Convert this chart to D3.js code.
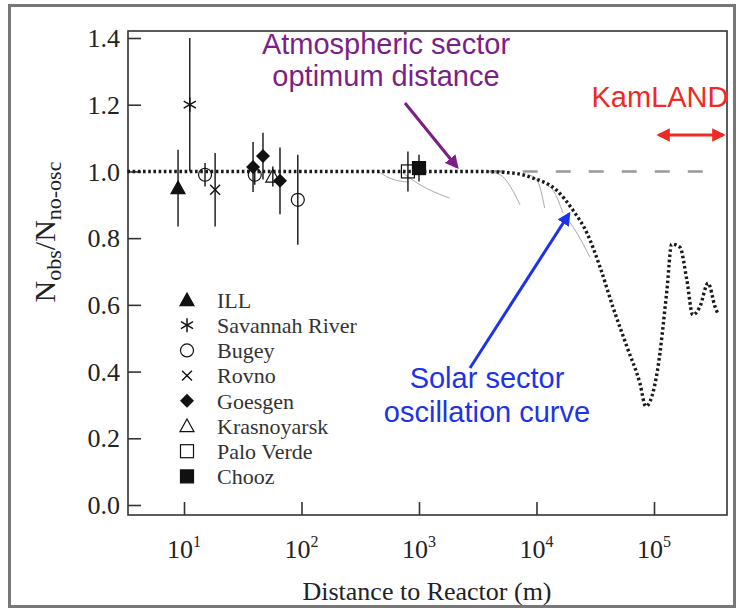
<!DOCTYPE html>
<html>
<head>
<meta charset="utf-8">
<script src="https://cdn.jsdelivr.net/npm/d3@7"></script>
<style>
  body { margin: 0; background: #fff; }
  svg { display: block; }
</style>
</head>
<body>
<div id="chart-area"></div>
<script>

// SVG Size
var width = 737,
		height = 610;

// Experiments (legend order)
var experiments = ["ILL", "Savannah River", "Bugey", "Rovno", "Goesgen", "Krasnoyarsk", "Palo Verde", "Chooz"];
var shapes = ["triangleFilled", "asterisk", "circleOpen", "cross", "diamondFilled", "triangleOpen", "squareOpen", "squareFilled"];

// Measurements
var pointExp   = ["ILL", "Savannah River", "Bugey", "Rovno", "Bugey", "Goesgen", "Goesgen", "Krasnoyarsk", "Goesgen", "Bugey", "Palo Verde", "Chooz"];
var pointDist  = [8.9, 11.2, 15.1, 18.4, 40, 38.7, 47, 57, 65.6, 93, 805, 1000];
var pointRatio = [0.95, 1.20, 0.99, 0.945, 0.99, 1.013, 1.046, 0.985, 0.972, 0.915, 1.0, 1.01];
var pointErr   = [0.115, 0.20, 0.035, 0.11, 0.03, 0.075, 0.07, 0.03, 0.10, 0.135, 0.06, 0.04];

// Solar sector oscillation curve
var curveDist  = [3.3, 100, 1000, 3162, 6310, 9333, 14790, 20420, 26900, 34670, 44670, 58880, 75860, 85110, 107200, 128800, 141300, 166000, 190500, 213800, 245500, 288400, 331100, 350800];
var curveRatio = [1.0, 1.0, 1.0, 1.0, 0.995, 0.98, 0.944, 0.884, 0.815, 0.714, 0.594, 0.474, 0.365, 0.296, 0.405, 0.644, 0.782, 0.773, 0.674, 0.57, 0.594, 0.665, 0.594, 0.572];

// Faint neighbouring curves
var fanDist  = [[450, 563, 794], [700, 1020, 1820], [3800, 4900, 7250], [8500, 10100, 11750], [12000, 13800, 16800], [19000, 22100, 28500]];
var fanRatio = [[1.0, 0.98, 0.968], [1.0, 0.96, 0.92], [1.0, 0.99, 0.90], [0.99, 0.974, 0.89], [0.96, 0.944, 0.875], [0.85, 0.815, 0.743]];

// No-oscillation reference
var noOscDist = [4000, 360000];
var noOscRatio = [1, 1];

// Tick labels
var yTicks = [0, 0.2, 0.4, 0.6, 0.8, 1.0, 1.2, 1.4];
var xTicks = [10, 100, 1000, 10000, 100000];

var svg = d3.select("#chart-area").append("svg")
		.attr("width", width)
		.attr("height", height);

// outer frame
svg.append("rect")
	.attr("x", 9.5).attr("y", 5.5)
	.attr("width", 725).attr("height", 601)
	.attr("fill", "none").attr("stroke", "#777").attr("stroke-width", 3);

// Plot box
var box = {left: 128, right: 727, top: 31, bottom: 515};

// X scale
var xScale = d3.scaleLog()
	.domain([10, 100000])
	.range([184, 654]);

// Y scale
var yScale = d3.scaleLinear()
	.domain([0, 1.4])
	.range([505, 38]);

var serif = "'Liberation Serif', 'Times New Roman', serif";
var sans = "'Liberation Sans', Arial, sans-serif";

// arrow markers
var defs = svg.append("defs");
function arrowMarker(id, color) {
	defs.append("marker")
		.attr("id", id)
		.attr("viewBox", "0 0 10 10")
		.attr("refX", 8).attr("refY", 5)
		.attr("markerWidth", 4.5).attr("markerHeight", 4.5)
		.attr("orient", "auto-start-reverse")
		.append("path")
		.attr("d", "M0,0 L10,5 L0,10 z")
		.attr("fill", color);
}
arrowMarker("arrPurple", "#7b1f86");
arrowMarker("arrBlue", "#1d34e6");
arrowMarker("arrRed", "#ee2a24");

// frame
svg.append("rect")
	.attr("x", box.left).attr("y", box.top)
	.attr("width", box.right - box.left).attr("height", box.bottom - box.top)
	.attr("fill", "none").attr("stroke", "#333").attr("stroke-width", 1.6);

// Y axis (ticks inward)
var yAxis = d3.axisRight(yScale)
	.tickValues(yTicks)
	.tickSize(13)
	.tickFormat("");
var gy = svg.append("g")
	.attr("transform", "translate(" + box.left + ",0)")
	.call(yAxis);
gy.select(".domain").remove();
gy.selectAll(".tick line").attr("stroke", "#333").attr("stroke-width", 1.6);

svg.selectAll(".ylab")
	.data(yTicks)
	.enter()
	.append("text")
	.attr("class", "ylab")
	.attr("x", 120)
	.attr("y", function(d){ return yScale(d); })
	.attr("dy", "0.35em")
	.attr("text-anchor", "end")
	.attr("font-family", serif)
	.attr("font-size", 26)
	.attr("fill", "#222")
	.text(function(d){ return d.toFixed(1); });

// X axis (ticks inward)
var xAxis = d3.axisTop(xScale)
	.tickValues(xTicks)
	.tickSize(13)
	.tickFormat("");
var gx = svg.append("g")
	.attr("transform", "translate(0," + box.bottom + ")")
	.call(xAxis);
gx.select(".domain").remove();
gx.selectAll(".tick line").attr("stroke", "#333").attr("stroke-width", 1.6);

var xl = svg.selectAll(".xlab")
	.data(xTicks)
	.enter()
	.append("text")
	.attr("class", "xlab")
	.attr("x", function(d){ return xScale(d); })
	.attr("y", 558)
	.attr("text-anchor", "middle")
	.attr("font-family", serif)
	.attr("font-size", 26)
	.attr("fill", "#222");
xl.append("tspan").text("10");
xl.append("tspan")
	.attr("dy", -11)
	.attr("font-size", 16)
	.text(function(d){ return Math.round(Math.log10(d)); });

// axis titles
svg.append("text")
	.attr("x", 427).attr("y", 600)
	.attr("text-anchor", "middle")
	.attr("font-family", serif)
	.attr("font-size", 26)
	.attr("fill", "#222")
	.text("Distance to Reactor (m)");

var yt = svg.append("text")
	.attr("transform", "translate(55,232) rotate(-90)")
	.attr("text-anchor", "middle")
	.attr("font-family", serif)
	.attr("font-size", 30)
	.attr("fill", "#222");
yt.append("tspan").text("N");
yt.append("tspan").attr("font-size", 22).attr("dy", 6).text("obs");
yt.append("tspan").attr("dy", -6).text("/N");
yt.append("tspan").attr("font-size", 22).attr("dy", 6).text("no-osc");

var line = d3.line()
	.x(function(d){ return xScale(d[0]); })
	.y(function(d){ return yScale(d[1]); });

// dashed no-oscillation line
svg.append("path")
	.datum(d3.zip(noOscDist, noOscRatio))
	.attr("d", line)
	.attr("fill", "none")
	.attr("stroke", "#999")
	.attr("stroke-width", 2.5)
	.attr("stroke-dasharray", "15,18");

// faint curves
fanDist.forEach(function(ds, i){
	svg.append("path")
		.datum(d3.zip(ds, fanRatio[i]))
		.attr("d", line.curve(d3.curveMonotoneX))
		.attr("fill", "none")
		.attr("stroke", "#aaa")
		.attr("stroke-width", 1);
});

// oscillation curve
svg.append("path")
	.datum(d3.zip(curveDist, curveRatio))
	.attr("d", line.curve(d3.curveMonotoneX))
	.attr("fill", "none")
	.attr("stroke", "#1a1a1a")
	.attr("stroke-width", 3.4)
	.attr("stroke-dasharray", "2.6,2.6");

// Marker drawing
function drawMarker(g, shape, x, y) {
	var s = 7;
	var stroke = "#111";
	if (shape === "triangleFilled" || shape === "triangleOpen") {
		g.append("path")
			.attr("d", "M" + x + "," + (y - s) + " L" + (x + s) + "," + (y + s * 0.8) + " L" + (x - s) + "," + (y + s * 0.8) + " Z")
			.attr("fill", shape === "triangleFilled" ? stroke : "none")
			.attr("stroke", stroke).attr("stroke-width", 1.2);
	} else if (shape === "asterisk") {
		[90, 30, -30].forEach(function(a){
			var r = a * Math.PI / 180;
			g.append("line")
				.attr("x1", x - s * Math.cos(r)).attr("y1", y - s * Math.sin(r))
				.attr("x2", x + s * Math.cos(r)).attr("y2", y + s * Math.sin(r))
				.attr("stroke", stroke).attr("stroke-width", 1.5);
		});
	} else if (shape === "circleOpen") {
		g.append("circle").attr("cx", x).attr("cy", y).attr("r", s - 0.5)
			.attr("fill", "none").attr("stroke", stroke).attr("stroke-width", 1.2);
	} else if (shape === "cross") {
		[45, -45].forEach(function(a){
			var r = a * Math.PI / 180;
			g.append("line")
				.attr("x1", x - s * Math.cos(r)).attr("y1", y - s * Math.sin(r))
				.attr("x2", x + s * Math.cos(r)).attr("y2", y + s * Math.sin(r))
				.attr("stroke", stroke).attr("stroke-width", 1.4);
		});
	} else if (shape === "diamondFilled") {
		g.append("path")
			.attr("d", "M" + x + "," + (y - s) + " L" + (x + s) + "," + y + " L" + x + "," + (y + s) + " L" + (x - s) + "," + y + " Z")
			.attr("fill", stroke);
	} else if (shape === "squareOpen" || shape === "squareFilled") {
		g.append("rect")
			.attr("x", x - s + 0.5).attr("y", y - s + 0.5)
			.attr("width", 2 * s - 1).attr("height", 2 * s - 1)
			.attr("fill", shape === "squareFilled" ? stroke : "none")
			.attr("stroke", stroke).attr("stroke-width", 1.2);
	}
}

// error bars
svg.selectAll(".err")
	.data(pointDist)
	.enter()
	.append("line")
	.attr("class", "err")
	.attr("x1", function(d){ return xScale(d); })
	.attr("x2", function(d){ return xScale(d); })
	.attr("y1", function(d, i){ return yScale(pointRatio[i] + pointErr[i]); })
	.attr("y2", function(d, i){ return yScale(pointRatio[i] - pointErr[i]); })
	.attr("stroke", "#222")
	.attr("stroke-width", 1.5);

// points
var gp = svg.append("g");
pointDist.forEach(function(d, i){
	var shape = shapes[experiments.indexOf(pointExp[i])];
	drawMarker(gp, shape, xScale(d), yScale(pointRatio[i]));
});

// legend
var gl = svg.append("g");
experiments.forEach(function(name, i){
	var ly = 300 + i * 25.2;
	drawMarker(gl, shapes[i], 187, ly);
	gl.append("text")
		.attr("x", 217).attr("y", ly)
		.attr("dy", "0.35em")
		.attr("font-family", serif)
		.attr("font-size", 22)
		.attr("fill", "#333")
		.text(name);
});

// annotations
function label(lines, x, y, color, gap) {
	lines.forEach(function(t, i){
		svg.append("text")
			.attr("x", x).attr("y", y + i * gap)
			.attr("text-anchor", "middle")
			.attr("font-family", sans)
			.attr("font-size", 29)
			.attr("fill", color)
			.text(t);
	});
}
label(["Atmospheric sector", "optimum distance"], 386, 54, "#7b1f86", 32);
label(["Solar sector", "oscillation curve"], 487, 388, "#1d34e6", 34);
label(["KamLAND"], 660, 107, "#ee2a24", 0);

svg.append("line")
	.attr("x1", 405).attr("y1", 103).attr("x2", 457).attr("y2", 167)
	.attr("stroke", "#7b1f86").attr("stroke-width", 3)
	.attr("marker-end", "url(#arrPurple)");

svg.append("line")
	.attr("x1", 470).attr("y1", 368).attr("x2", 569).attr("y2", 214)
	.attr("stroke", "#1d34e6").attr("stroke-width", 3)
	.attr("marker-end", "url(#arrBlue)");

svg.append("line")
	.attr("x1", 659).attr("y1", 135).attr("x2", 723).attr("y2", 135)
	.attr("stroke", "#ee2a24").attr("stroke-width", 3)
	.attr("marker-start", "url(#arrRed)")
	.attr("marker-end", "url(#arrRed)");

</script>
</body>
</html>
